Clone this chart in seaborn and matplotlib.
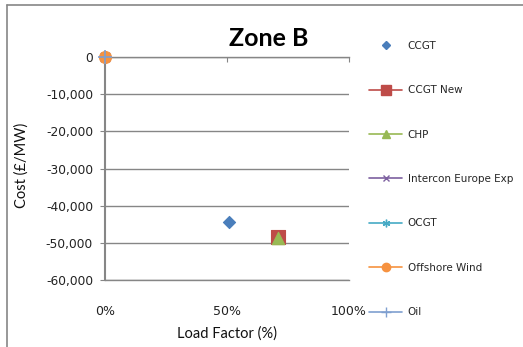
import seaborn as sns
import matplotlib.pyplot as plt
import pandas as pd
from matplotlib.lines import Line2D
from matplotlib.ticker import FuncFormatter

# series (load factor as fraction, cost in GBP/MW)
series = ['CCGT', 'CCGT New', 'CHP', 'Intercon Europe Exp', 'OCGT', 'Offshore Wind', 'Oil']
load_factor = [0.51, 0.71, 0.71, 0.0, 0.0, 0.0, 0.0]
cost = [-44300, -48300, -48600, 0, 0, 0, 0]

colors = ['#4A7EBB', '#BE4B48', '#98B954', '#7D60A0', '#46AAC5', '#F69240', '#7F9FD0']
markers = ['D', 's', '^', 'x', (6, 2, 0), 'o', '+']
sizes = [38, 110, 80, 45, 55, 75, 90]
leg_sizes = [4.5, 7, 6, 5, 5.5, 6, 7]

df = pd.DataFrame({'series': series, 'lf': load_factor, 'cost': cost})

sns.set_style('white')
plt.rcParams['font.family'] = ['DejaVu Sans']

fig = plt.figure(figsize=(5.23, 3.47), dpi=100)
ax = fig.add_axes([105/523, 1-280/347, 244/523, 223/347])

for i, name in enumerate(series):
    sub = df[df['series'] == name]
    filled = markers[i] in ('D', 's', '^', 'o')
    sns.scatterplot(data=sub, x='lf', y='cost', ax=ax, marker=markers[i], s=sizes[i],
                    color=colors[i], edgecolor=colors[i] if filled else None,
                    linewidth=0.8 if filled else 1.2, legend=False, zorder=3+i, clip_on=False)

ax.set_xlim(0, 1)
ax.set_ylim(-60000, 0)
ax.set_xticks([0, 0.5, 1])
ax.set_yticks(range(-60000, 1, 10000))
ax.xaxis.set_major_formatter(FuncFormatter(lambda v, p: f'{v:.0%}'))
ax.yaxis.set_major_formatter(FuncFormatter(lambda v, p: f'{v:,.0f}'))

grey = '#868686'
ax.yaxis.grid(True, color=grey, lw=1.0)
ax.xaxis.grid(False)
ax.spines['right'].set_visible(False)
for s in ['top', 'bottom']:
    ax.spines[s].set_color(grey)
    ax.spines[s].set_linewidth(1.0)
ax.spines['left'].set_color(grey)
ax.spines['left'].set_linewidth(1.5)

ax.tick_params(axis='y', left=True, direction='out', length=3.6, color=grey,
               labelsize=8.8, labelcolor='#222222', pad=5)
ax.tick_params(axis='x', top=True, bottom=False, labeltop=False, labelbottom=True,
               direction='in', length=3.6, color=grey, labelsize=9,
               labelcolor='#222222', pad=18)

ax.set_xlabel('Load Factor (%)', fontsize=10.5, family='Lato', color='#111111', va='center')
ax.set_ylabel('Cost (£/MW)', fontsize=10.5, family='Lato', color='#111111', va='center')
ax.xaxis.set_label_coords((227-105)/244, (280-334)/223)
ax.yaxis.set_label_coords((22-105)/244, (280-165)/223)

ax.text((269-105)/244, (280-38)/223, 'Zone B', transform=ax.transAxes, ha='center',
        va='center', fontsize=18, fontweight='bold', family='Lato', color='black')

handles = [Line2D([], [], color=colors[i], marker=markers[i], markersize=leg_sizes[i],
                  linestyle='none' if i == 0 else '-', lw=1.2,
                  markeredgecolor=colors[i], markeredgewidth=1.0)
           for i in range(len(series))]
fig.legend(handles, series, loc='upper left', bbox_to_anchor=(369/523, 1-41/347),
           frameon=False, fontsize=7.5, handlelength=3.2, handletextpad=0.5,
           labelspacing=3.3, borderpad=0, borderaxespad=0)

# chart area border (top and left edges)
fig.add_artist(Line2D([7/523, 1], [1-5/347, 1-5/347], transform=fig.transFigure, color=grey, lw=1.2))
fig.add_artist(Line2D([7/523, 7/523], [0, 1-5/347], transform=fig.transFigure, color=grey, lw=1.2))

fig.savefig('out.png', dpi=100)
